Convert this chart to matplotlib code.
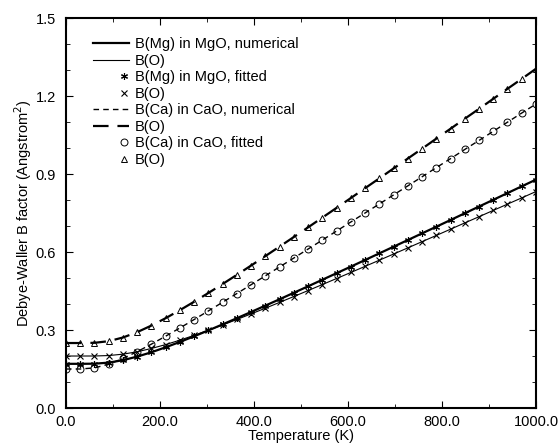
import matplotlib
matplotlib.use("Agg")
import matplotlib.pyplot as plt
from matplotlib.ticker import MultipleLocator, FormatStrFormatter
from matplotlib.legend_handler import HandlerLine2D

plt.rcParams['font.family'] = ['Liberation Sans', 'DejaVu Sans']

# temperature grid (K)
temp = [0, 30.3, 60.6, 90.9, 121.2, 151.5, 181.8, 212.1, 242.4, 272.7, 303.0,
        333.3, 363.6, 393.9, 424.2, 454.5, 484.8, 515.2, 545.5, 575.8, 606.1,
        636.4, 666.7, 697.0, 727.3, 757.6, 787.9, 818.2, 848.5, 878.8, 909.1,
        939.4, 969.7, 1000]

# B factors (Angstrom^2)
mg_mgo = [0.170, 0.170, 0.1705, 0.1746, 0.184, 0.1977, 0.2145, 0.2336, 0.2542,
          0.2759, 0.2985, 0.3217, 0.3454, 0.3694, 0.3938, 0.4183, 0.4432, 0.4682,
          0.4933, 0.5186, 0.5438, 0.5693, 0.5948, 0.6204, 0.646, 0.6717, 0.6973,
          0.723, 0.749, 0.7749, 0.8007, 0.8267, 0.8526, 0.8784]
o_mgo = [0.200, 0.200, 0.2001, 0.2018, 0.2071, 0.2164, 0.229, 0.244, 0.261,
         0.2795, 0.2991, 0.3194, 0.3405, 0.362, 0.3839, 0.4063, 0.4289, 0.4518,
         0.4749, 0.4981, 0.5214, 0.5449, 0.5685, 0.5922, 0.6159, 0.6398, 0.6637,
         0.6878, 0.7119, 0.7358, 0.760, 0.7842, 0.8082, 0.8326]
ca_cao = [0.150, 0.1501, 0.1543, 0.1686, 0.1905, 0.2168, 0.2457, 0.2763, 0.3079,
          0.3404, 0.3734, 0.4068, 0.4404, 0.4743, 0.5084, 0.5427, 0.5769, 0.6115,
          0.646, 0.6808, 0.7155, 0.7501, 0.7848, 0.8196, 0.8544, 0.8893, 0.9245,
          0.9591, 0.9944, 1.0291, 1.0642, 1.0994, 1.1345, 1.1692]
o_cao = [0.250, 0.250, 0.2508, 0.2571, 0.2712, 0.2918, 0.3171, 0.3456, 0.3764,
         0.4088, 0.4424, 0.477, 0.5122, 0.548, 0.5843, 0.6209, 0.6577, 0.6949,
         0.7324, 0.7699, 0.8075, 0.8455, 0.8832, 0.9214, 0.9595, 0.9974, 1.0359,
         1.0741, 1.1126, 1.1506, 1.1892, 1.2278, 1.266, 1.3048]

FS = 10.5


class RightMarker(HandlerLine2D):
    # single legend marker sits next to the text, like the original
    def get_xdata(self, legend, xdescent, ydescent, width, height, fontsize):
        xd = [-xdescent + 0.7 * width, -xdescent + width]
        return xd, [-xdescent + 0.85 * width]


fig = plt.figure(figsize=(5.59, 4.47), dpi=100)
ax = fig.add_axes([0.118, 0.0872, 0.8408, 0.8725])

h = []
h += ax.plot(temp, mg_mgo, '-', color='black', lw=1.6, label='B(Mg) in MgO, numerical')
h += ax.plot(temp, o_mgo, '-', color='black', lw=0.8, label='B(O)')
m1, = ax.plot(temp, mg_mgo, ls='none', marker=(6, 2, 0), ms=5, mec='black', mew=0.8,
              label='B(Mg) in MgO, fitted')
m2, = ax.plot(temp, o_mgo, ls='none', marker='x', ms=4, mec='black', mew=0.8, label='B(O)')
h += ax.plot(temp, ca_cao, '--', color='black', lw=1.0, dashes=(4, 3),
             label='B(Ca) in CaO, numerical')
h += ax.plot(temp, o_cao, '--', color='black', lw=1.6, dashes=(7, 4), label='B(O)')
m3, = ax.plot(temp, ca_cao, ls='none', marker='o', ms=5, mfc='none', mec='black', mew=0.7,
              label='B(Ca) in CaO, fitted')
m4, = ax.plot(temp, o_cao, ls='none', marker='^', ms=5, mfc='none', mec='black', mew=0.7,
              label='B(O)')

handles = [h[0], h[1], m1, m2, h[2], h[3], m3, m4]
hmap = {m: RightMarker(numpoints=1) for m in [m1, m2, m3, m4]}
ax.legend(handles=handles, loc='upper left', bbox_to_anchor=(0.045, 0.965),
          frameon=False, fontsize=FS, handlelength=2.5, handletextpad=0.4,
          labelspacing=0.17, borderaxespad=0, handler_map=hmap)

ax.set_xlim(0, 1000)
ax.set_ylim(0, 1.5)
ax.xaxis.set_major_locator(MultipleLocator(200))
ax.xaxis.set_minor_locator(MultipleLocator(100))
ax.yaxis.set_major_locator(MultipleLocator(0.3))
ax.yaxis.set_minor_locator(MultipleLocator(0.1))
ax.xaxis.set_major_formatter(FormatStrFormatter('%.1f'))
ax.yaxis.set_major_formatter(FormatStrFormatter('%.1f'))
ax.tick_params(which='both', direction='in', top=True, right=True, labelsize=FS)
ax.tick_params(which='major', length=5)
ax.tick_params(which='minor', length=3)
ax.tick_params(axis='y', pad=7)
ax.tick_params(axis='x', pad=5)
for s in ax.spines.values():
    s.set_linewidth(1.5)

ax.set_xlabel('Temperature (K)', fontsize=FS, labelpad=0)
ax.set_ylabel('Debye-Waller B factor (Angstrom$^2$)', fontsize=FS, labelpad=1)

fig.savefig('out.png', dpi=100)
